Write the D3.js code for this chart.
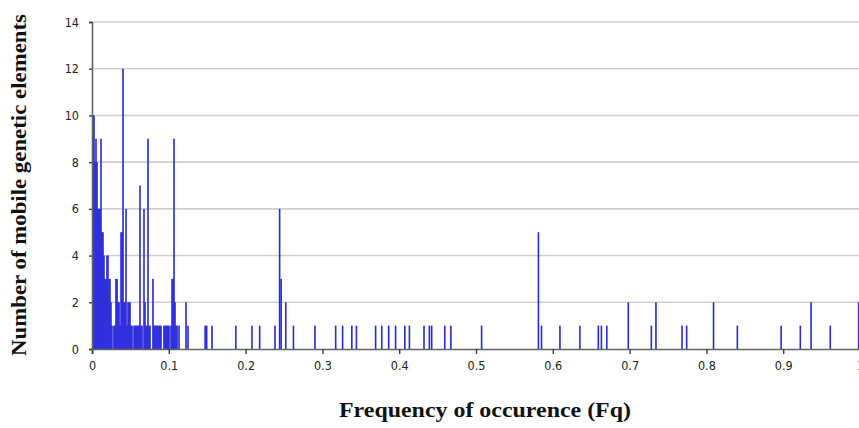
<!DOCTYPE html>
<html>
<head>
<meta charset="utf-8">
<script src="https://cdn.jsdelivr.net/npm/d3@7"></script>
<style>
  body { margin: 0; background: #fff; }
  svg { display: block; }
</style>
</head>
<body>
<div id="chart"></div>
<script>
// frequency of occurence (Fq) of each bar
const fqValues = [
  0.0000, 0.0013, 0.0026, 0.0039, 0.0052, 0.0065, 0.0078, 0.0091, 0.0104, 0.0117,
  0.0130, 0.0143, 0.0156, 0.0169, 0.0182, 0.0195, 0.0208, 0.0221, 0.0234, 0.0247,
  0.0273, 0.0286, 0.0299, 0.0313, 0.0326, 0.0339, 0.0352, 0.0365, 0.0378, 0.0391,
  0.0404, 0.0417, 0.0430, 0.0443, 0.0456, 0.0469, 0.0482, 0.0495, 0.0508, 0.0534,
  0.0547, 0.0560, 0.0573, 0.0586, 0.0599, 0.0612, 0.0625, 0.0638, 0.0664, 0.0677,
  0.0690, 0.0703, 0.0716, 0.0729, 0.0742, 0.0781, 0.0794, 0.0807, 0.0820, 0.0833,
  0.0846, 0.0859, 0.0872, 0.0885, 0.0924, 0.0938, 0.0951, 0.0964, 0.0977, 0.0990,
  0.1016, 0.1029, 0.1042, 0.1055, 0.1068, 0.1081, 0.1094, 0.1120, 0.1211, 0.1237,
  0.146, 0.148, 0.155, 0.186, 0.207, 0.217, 0.237, 0.243, 0.245, 0.251,
  0.261, 0.289, 0.316, 0.325, 0.337, 0.343, 0.368, 0.376, 0.385, 0.394,
  0.406, 0.412, 0.431, 0.438, 0.441, 0.458, 0.466, 0.506, 0.580, 0.584,
  0.608, 0.634, 0.658, 0.662, 0.669, 0.697, 0.727, 0.733, 0.767, 0.773,
  0.808, 0.839, 0.896, 0.921, 0.935, 0.960, 0.997
];

// number of mobile genetic elements for each Fq above
const mgeCounts = [
  10, 10, 8, 9, 8, 6, 6, 6, 9, 5,
  5, 4, 3, 3, 4, 4, 3, 3, 2, 1,
  1, 1, 3, 3, 2, 2, 1, 5, 5, 12,
  2, 2, 6, 1, 2, 2, 2, 1, 1, 1,
  1, 1, 1, 1, 1, 7, 1, 1, 6, 2,
  1, 1, 9, 1, 1, 3, 1, 1, 1, 1,
  1, 1, 1, 1, 1, 1, 1, 1, 1, 1,
  1, 3, 3, 9, 2, 1, 1, 1, 2, 1,
  1, 1, 1, 1, 1, 1, 1, 6, 3, 2,
  1, 1, 1, 1, 1, 1, 1, 1, 1, 1,
  1, 1, 1, 1, 1, 1, 1, 1, 5, 1,
  1, 1, 1, 1, 1, 2, 1, 2, 1, 1,
  2, 1, 1, 1, 2, 1, 2
];

const xTicks = [0, 0.1, 0.2, 0.3, 0.4, 0.5, 0.6, 0.7, 0.8, 0.9, 1];
const yTicks = [0, 2, 4, 6, 8, 10, 12, 14];

const bars = fqValues.map((fq, i) => ({ fq: fq, count: mgeCounts[i] }));

const W = 859, H = 428;
const margin = { top: 22, right: -1, bottom: 79, left: 92 };
const width = W - margin.left - margin.right;
const height = H - margin.top - margin.bottom;

const svg = d3.select("#chart")
  .append("svg")
  .attr("width", W)
  .attr("height", H);

const g = svg.append("g")
  .attr("transform", `translate(${margin.left}, ${margin.top})`);

const x = d3.scaleLinear().domain([0, 1]).range([0, width]);
const y = d3.scaleLinear().domain([0, 14]).range([height, 0]);

// gridlines
g.append("g")
  .selectAll("line")
  .data(yTicks.filter(d => d > 0))
  .enter().append("line")
  .attr("x1", 0)
  .attr("x2", width)
  .attr("y1", d => y(d))
  .attr("y2", d => y(d))
  .attr("stroke", "#cfcfcf")
  .attr("stroke-width", 1.6);

// bars
g.append("g")
  .selectAll("rect")
  .data(bars)
  .enter().append("rect")
  .attr("x", d => x(d.fq) + 0.2)
  .attr("y", d => y(d.count))
  .attr("width", 1.6)
  .attr("height", d => y(0) - y(d.count))
  .attr("fill", "#2828dc");

// axes
const xAxis = g.append("g")
  .attr("transform", `translate(0, ${height})`)
  .call(d3.axisBottom(x).tickValues(xTicks).tickSize(5).tickPadding(7)
    .tickFormat(d => d === 0 || d === 1 ? d3.format("d")(d) : d3.format(".1f")(d)));

const yAxis = g.append("g")
  .call(d3.axisLeft(y).tickValues(yTicks).tickSize(3).tickPadding(10));

[xAxis, yAxis].forEach(a => {
  a.select(".domain").attr("stroke", "#5f6664").attr("stroke-width", 1.6);
  a.selectAll(".tick line").attr("stroke", "#3a3f3e").attr("stroke-width", 1.4);
  a.selectAll("text")
    .attr("fill", "#222")
    .style("font-family", "'DejaVu Sans Condensed', 'DejaVu Sans', sans-serif")
    .style("font-size", "12.5px");
});

// axis titles
svg.append("text")
  .attr("x", 485)
  .attr("y", 417)
  .attr("text-anchor", "middle")
  .attr("textLength", 292)
  .attr("lengthAdjust", "spacingAndGlyphs")
  .style("font-family", "'Liberation Serif', 'Times New Roman', serif")
  .style("font-weight", "bold")
  .style("font-size", "22px")
  .attr("fill", "#111")
  .text("Frequency of occurence (Fq)");

svg.append("text")
  .attr("transform", "translate(26, 185) rotate(-90)")
  .attr("text-anchor", "middle")
  .attr("textLength", 342)
  .attr("lengthAdjust", "spacingAndGlyphs")
  .style("font-family", "'Liberation Serif', 'Times New Roman', serif")
  .style("font-weight", "bold")
  .style("font-size", "21px")
  .attr("fill", "#111")
  .text("Number of mobile genetic elements");
</script>
</body>
</html>
